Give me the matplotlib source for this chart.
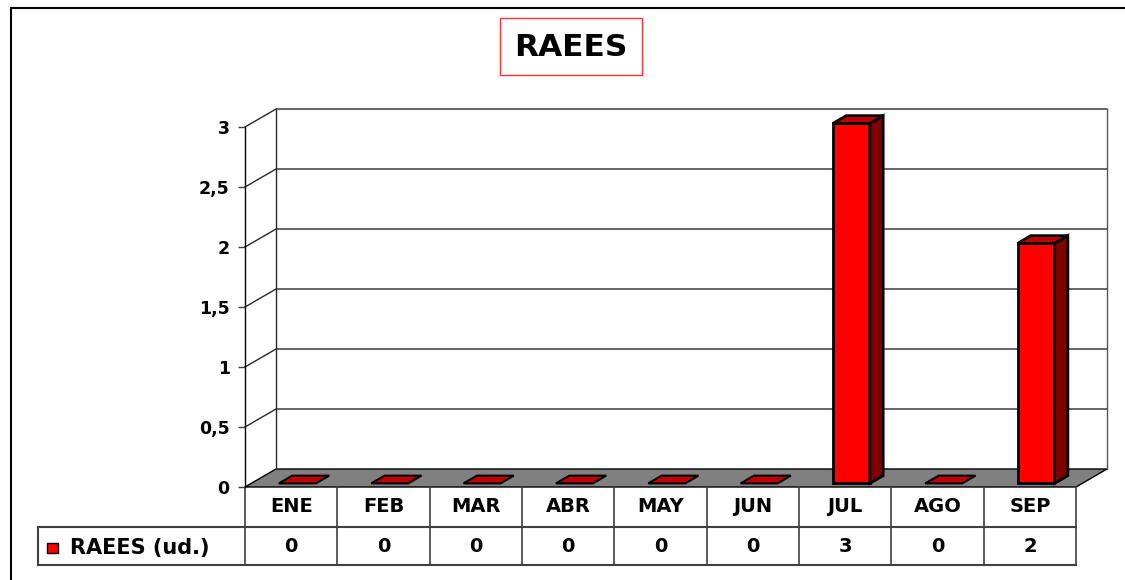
import matplotlib.pyplot as plt
from matplotlib.patches import Polygon, Rectangle
from matplotlib.lines import Line2D

# data
months = ['ENE', 'FEB', 'MAR', 'ABR', 'MAY', 'JUN', 'JUL', 'AGO', 'SEP']
raees = [0, 0, 0, 0, 0, 0, 3, 0, 2]
yticks = [0, 0.5, 1, 1.5, 2, 2.5, 3]
ytick_labels = ['0', '0,5', '1', '1,5', '2', '2,5', '3']
series_name = 'RAEES (ud.)'
title = 'RAEES'

W, H = 1125, 580
fig = plt.figure(figsize=(W / 100, H / 100), dpi=100)

# front plane of the 3D box
ax = fig.add_axes([245 / W, 1 - 487 / H, 831 / W, 360 / H])
ax.set_xlim(0, len(months))
ax.set_ylim(0, 3)
for s in ['top', 'right', 'bottom']:
    ax.spines[s].set_visible(False)
ax.spines['left'].set_color('black')
ax.spines['left'].set_linewidth(1)
ax.set_xticks([])
ax.set_yticks(yticks)
ax.set_yticklabels(ytick_labels, fontsize=12.5, fontweight='bold')
ax.tick_params(axis='y', length=5, width=1, pad=6, color='#404040')
ax.patch.set_visible(False)

# oblique depth in data units
DX = 31 / (831 / len(months))
DY = 18 / 120


def proj(x, v, d):
    return (x + d * DX, v + d * DY)


def poly(pts, fc, ec='black', lw=1, z=2):
    p = Polygon([proj(*q) for q in pts], closed=True, facecolor=fc,
                edgecolor=ec, linewidth=lw, zorder=z, clip_on=False)
    ax.add_patch(p)


def line(pts, color='#333333', lw=1, z=1):
    xs, ys = zip(*[proj(*q) for q in pts])
    ax.add_line(Line2D(xs, ys, color=color, linewidth=lw, zorder=z, clip_on=False))


n = len(months)

# floor
poly([(0, 0, 0), (n, 0, 0), (n, 0, 1), (0, 0, 1)], '#808080', ec='black', lw=1, z=1)

# back wall grid and side wall lines
for v in yticks[1:]:
    line([(0, v, 0), (0, v, 1), (n, v, 1)], color='#2a2a2a', lw=1)
line([(0, 0, 1), (0, 3, 1)], color='#2a2a2a', lw=1)
line([(n, 0, 1), (n, 3, 1)], color='#555555', lw=1)

# bars
b0, b1 = 0.3, 0.7
d0, d1 = 0.2, 0.63
for i, v in enumerate(raees):
    if v > 0:
        poly([(i + b0, 0, d0), (i + b1, 0, d0), (i + b1, v, d0), (i + b0, v, d0)], '#FF0000', lw=2, z=4)
        poly([(i + b1, 0, d0), (i + b1, 0, d1), (i + b1, v, d1), (i + b1, v, d0)], '#800000', lw=2, z=4)
    poly([(i + b0, v, d0), (i + b1, v, d0), (i + b1, v, d1), (i + b0, v, d1)], '#C00000', lw=2 if v > 0 else 1.5, z=4)

# data table below the floor
r1 = 40 / 120
r2 = 78 / 120
left = -207 / (831 / n)
tcol = '#404040'
ax.add_line(Line2D([left, n], [-r1, -r1], color=tcol, lw=1.5, clip_on=False))
ax.add_line(Line2D([left, n], [-r2, -r2], color=tcol, lw=1.5, clip_on=False))
ax.add_line(Line2D([left, left], [-r1, -r2], color=tcol, lw=1.5, clip_on=False))
for i in range(n + 1):
    ax.add_line(Line2D([i, i], [0, -r2], color=tcol, lw=1.2, clip_on=False))
for i, (m, v) in enumerate(zip(months, raees)):
    ax.text(i + 0.5, -r1 / 2, m, ha='center', va='center', fontsize=14,
            fontweight='bold', clip_on=False)
    ax.text(i + 0.5, -(r1 + r2) / 2, str(v), ha='center', va='center',
            fontsize=14, fontweight='bold', clip_on=False)

# legend key inside the table
fig.patches.append(Rectangle((47 / W, 1 - 553 / H), 11 / W, 10 / H,
                             facecolor='#FF0000', edgecolor='black', lw=1,
                             transform=fig.transFigure, figure=fig))
fig.text(70 / W, 1 - 548 / H, series_name, ha='left', va='center',
         fontsize=15, fontweight='bold')

# title with red box
fig.patches.append(Rectangle((500 / W, 1 - 75 / H), 142 / W, 57 / H,
                             facecolor='white', edgecolor='#FF3030', lw=1,
                             transform=fig.transFigure, figure=fig))
fig.text(571 / W, 1 - 47 / H, title, ha='center', va='center',
         fontsize=22.5, fontweight='bold')

# outer chart border
fig.lines.append(Line2D([11 / W, 11 / W], [0, 1 - 8 / H], color='black', lw=1.5,
                        transform=fig.transFigure, figure=fig))
fig.lines.append(Line2D([11 / W, 1], [1 - 8 / H, 1 - 8 / H], color='black', lw=1.5,
                        transform=fig.transFigure, figure=fig))

fig.savefig('out.png', dpi=100)
